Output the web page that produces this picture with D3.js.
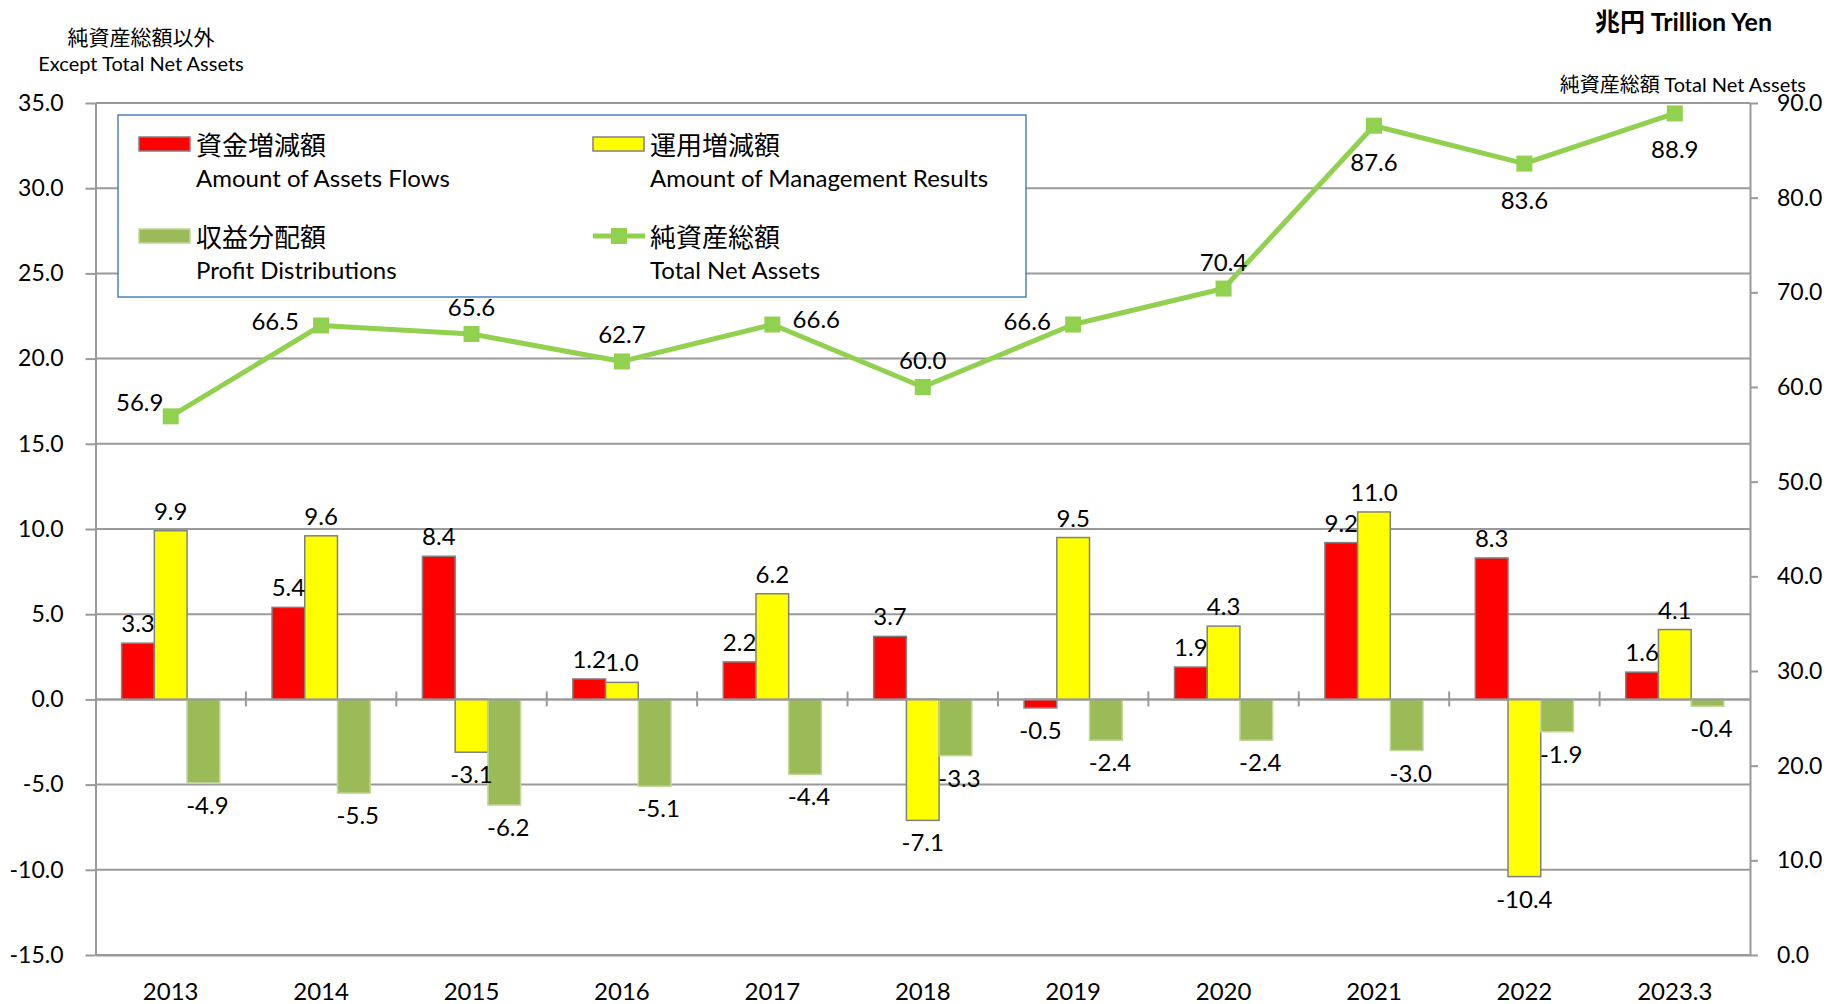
<!DOCTYPE html>
<html>
<head>
<meta charset="utf-8">
<script src="https://cdn.jsdelivr.net/npm/d3@7"></script>
<style>
  html, body { margin: 0; padding: 0; background: #fff; }
  svg { display: block; font-family: Lato, "Noto Sans CJK JP", sans-serif; }
  .tick text { font-family: Lato, sans-serif; font-size: 23px; fill: #000; }
  .lbl { font-family: Lato, sans-serif; font-size: 24px; fill: #000; }
  .jp { font-family: "Noto Sans CJK JP", sans-serif; }
</style>
</head>
<body>
<div id="chart"></div>
<script>
// data
const categories = ["2013", "2014", "2015", "2016", "2017", "2018", "2019", "2020", "2021", "2022", "2023.3"];
const assetFlows = [3.3, 5.4, 8.4, 1.2, 2.2, 3.7, -0.5, 1.9, 9.2, 8.3, 1.6];
const managementResults = [9.9, 9.6, -3.1, 1.0, 6.2, -7.1, 9.5, 4.3, 11.0, -10.4, 4.1];
const profitDistributions = [-4.9, -5.5, -6.2, -5.1, -4.4, -3.3, -2.4, -2.4, -3.0, -1.9, -0.4];
const totalNetAssets = [56.9, 66.5, 65.6, 62.7, 66.6, 60.0, 66.6, 70.4, 87.6, 83.6, 88.9];
const totalLabelSide = ["left-above", "left", "above", "above", "right", "above", "left", "above", "below", "below", "below"];
const leftTicks = [-15, -10, -5, 0, 5, 10, 15, 20, 25, 30, 35];
const rightTicks = [0, 10, 20, 30, 40, 50, 60, 70, 80, 90];

const width = 1827, height = 1004;
const margin = { top: 103, right: 77, bottom: 49, left: 95.5 };
const grey = "#9a9a9a";
const fmt = (d) => d.toFixed(1);

const svg = d3.select("#chart").append("svg").attr("width", width).attr("height", height);

// scales
const xScale = d3.scaleBand().domain(categories).range([margin.left, width - margin.right]);
const yLeft = d3.scaleLinear().domain([-15, 35]).range([height - margin.bottom, margin.top]);
const yRight = d3.scaleLinear().domain([0, 90]).range([height - margin.bottom, margin.top]);
const barW = xScale.bandwidth() * 0.2175;

// gridlines
svg.append("g")
  .selectAll("line")
  .data(leftTicks)
  .join("line")
  .attr("x1", margin.left)
  .attr("x2", width - margin.right)
  .attr("y1", (d) => yLeft(d))
  .attr("y2", (d) => yLeft(d))
  .attr("stroke", grey)
  .attr("stroke-width", 2);

// axes
const leftAxis = svg.append("g")
  .attr("transform", `translate(${margin.left},0)`)
  .call(d3.axisLeft(yLeft).tickValues(leftTicks).tickFormat(fmt).tickSize(10).tickSizeOuter(0).tickPadding(22));

const rightAxis = svg.append("g")
  .attr("transform", `translate(${width - margin.right},0)`)
  .call(d3.axisRight(yRight).tickValues(rightTicks).tickFormat(fmt).tickSize(8).tickSizeOuter(0).tickPadding(19));

const bottomAxis = svg.append("g")
  .attr("transform", `translate(0,${height - margin.bottom})`)
  .call(d3.axisBottom(xScale).tickSize(0).tickPadding(28));

[leftAxis, rightAxis, bottomAxis].forEach((g) => {
  g.select(".domain").attr("stroke", grey).attr("stroke-width", 2);
  g.selectAll(".tick line").attr("stroke", grey).attr("stroke-width", 2);
});
bottomAxis.selectAll(".tick text").style("font-size", "24px");

// bars
const series = [
  { values: assetFlows, color: "#ff0000", stroke: "#808080", offset: -1 },
  { values: managementResults, color: "#ffff00", stroke: "#808080", offset: 0 },
  { values: profitDistributions, color: "#9bbb59", stroke: "#c3d69b", offset: 1 },
];

const barX = (i, s) => xScale(categories[i]) + xScale.bandwidth() / 2 + (s.offset - 0.5) * barW;

series.forEach((s) => {
  svg.append("g")
    .selectAll("rect")
    .data(s.values)
    .join("rect")
    .attr("x", (d, i) => barX(i, s))
    .attr("y", (d) => yLeft(Math.max(0, d)))
    .attr("width", barW)
    .attr("height", (d) => Math.abs(yLeft(d) - yLeft(0)))
    .attr("fill", s.color)
    .attr("stroke", s.stroke)
    .attr("stroke-width", 1.5);
});

// zero line with category separators
const y0 = yLeft(0);
svg.append("line")
  .attr("x1", margin.left).attr("x2", width - margin.right)
  .attr("y1", y0).attr("y2", y0)
  .attr("stroke", grey).attr("stroke-width", 2);
svg.append("g")
  .selectAll("line")
  .data(categories.slice(1))
  .join("line")
  .attr("x1", (d) => xScale(d)).attr("x2", (d) => xScale(d))
  .attr("y1", y0 - 8).attr("y2", y0 + 7)
  .attr("stroke", grey).attr("stroke-width", 2);

// bar labels
series.forEach((s) => {
  svg.append("g")
    .selectAll("text")
    .data(s.values)
    .join("text")
    .attr("class", "lbl")
    .attr("text-anchor", "middle")
    .attr("x", (d, i) => barX(i, s) + barW / 2 + (s.offset === 1 ? 4 : 0))
    .attr("y", (d) => (d >= 0 ? yLeft(d) - 11 : yLeft(d) + 31))
    .text((d) => fmt(d));
});

// total net assets line
const line = d3.line()
  .x((d, i) => xScale(categories[i]) + xScale.bandwidth() / 2)
  .y((d) => yRight(d));

svg.append("path")
  .datum(totalNetAssets)
  .attr("d", line)
  .attr("fill", "none")
  .attr("stroke", "#92d050")
  .attr("stroke-width", 5)
  .attr("stroke-linejoin", "round");

svg.append("g")
  .selectAll("rect")
  .data(totalNetAssets)
  .join("rect")
  .attr("x", (d, i) => xScale(categories[i]) + xScale.bandwidth() / 2 - 8)
  .attr("y", (d) => yRight(d) - 8)
  .attr("width", 16)
  .attr("height", 16)
  .attr("fill", "#92d050");

const sideOffset = {
  "left-above": [-31, -5],
  left: [-46, 5],
  right: [44, 3],
  above: [0, -18],
  below: [0, 45],
};

svg.append("g")
  .selectAll("text")
  .data(totalNetAssets)
  .join("text")
  .attr("class", "lbl")
  .attr("text-anchor", "middle")
  .attr("x", (d, i) => xScale(categories[i]) + xScale.bandwidth() / 2 + sideOffset[totalLabelSide[i]][0])
  .attr("y", (d, i) => yRight(d) + sideOffset[totalLabelSide[i]][1])
  .text((d) => fmt(d));

// titles
svg.append("text").attr("class", "jp").attr("x", 141).attr("y", 45)
  .attr("text-anchor", "middle").attr("font-size", 21).text("純資産総額以外");
svg.append("text").attr("class", "lbl").attr("x", 141).attr("y", 71)
  .attr("text-anchor", "middle").style("font-size", "20px").text("Except Total Net Assets");

const unit = svg.append("text").attr("x", 1772).attr("y", 31)
  .attr("text-anchor", "end").attr("font-weight", "bold").attr("font-size", 25);
unit.append("tspan").attr("class", "jp").text("兆円 ");
unit.append("tspan").attr("font-family", "Lato").text("Trillion Yen");

const rtitle = svg.append("text").attr("x", 1806).attr("y", 92)
  .attr("text-anchor", "end").attr("font-size", 20);
rtitle.append("tspan").attr("class", "jp").text("純資産総額 ");
rtitle.append("tspan").attr("font-family", "Lato").text("Total Net Assets");

// legend
const legend = svg.append("g");
legend.append("rect")
  .attr("x", 118).attr("y", 115).attr("width", 908).attr("height", 182)
  .attr("fill", "#fff").attr("stroke", "#4f81bd").attr("stroke-width", 1.5);

const legendItems = [
  { jp: "資金増減額", en: "Amount of Assets Flows", color: "#ff0000", stroke: "#808080", type: "bar", col: 0, row: 0 },
  { jp: "運用増減額", en: "Amount of Management Results", color: "#ffff00", stroke: "#808080", type: "bar", col: 1, row: 0 },
  { jp: "収益分配額", en: "Profit Distributions", color: "#9bbb59", stroke: "#c3d69b", type: "bar", col: 0, row: 1 },
  { jp: "純資産総額", en: "Total Net Assets", color: "#92d050", stroke: "none", type: "line", col: 1, row: 1 },
];

legendItems.forEach((it) => {
  const gx = 139 + it.col * 454;
  const gy = 137 + it.row * 92;
  const g = legend.append("g").attr("transform", `translate(${gx},${gy})`);
  if (it.type === "bar") {
    g.append("rect").attr("x", 0).attr("y", 0).attr("width", 51).attr("height", 14)
      .attr("fill", it.color).attr("stroke", it.stroke).attr("stroke-width", 1.5);
  } else {
    g.append("line").attr("x1", 0).attr("x2", 52).attr("y1", 7).attr("y2", 7)
      .attr("stroke", it.color).attr("stroke-width", 5);
    g.append("rect").attr("x", 18).attr("y", -1).attr("width", 16).attr("height", 16).attr("fill", it.color);
  }
  g.append("text").attr("class", "jp").attr("x", 57).attr("y", 18).attr("font-size", 26).text(it.jp);
  g.append("text").attr("class", "lbl").attr("x", 57).attr("y", 50).text(it.en);
});
</script>
</body>
</html>
